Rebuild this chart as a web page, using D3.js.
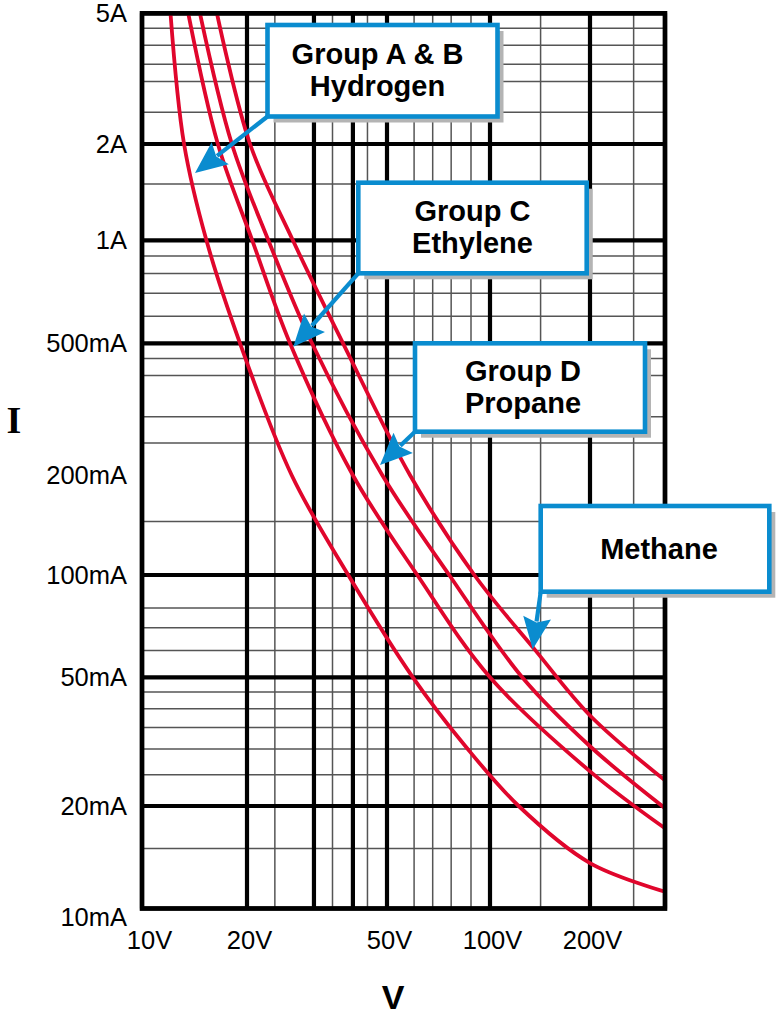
<!DOCTYPE html>
<html><head><meta charset="utf-8">
<script src="https://cdn.jsdelivr.net/npm/d3@7"></script>
<style>body{margin:0;background:#fff}svg{display:block}</style>
</head><body>
<svg id="c" width="776" height="1017"></svg>
<script>
// ---- data ----
const xMajor = [10, 20, 31, 40, 50, 100, 200, 335];
const xMinor = [24, 35, 44, 60, 68, 77, 88, 142, 270];
const yMajor = [10, 20, 50, 100, 500, 1000, 2000, 5000];
const yMinor = [15, 25, 30, 35, 40, 45, 60, 70, 80, 145, 250, 300, 400, 450, 600, 700, 800, 900, 1500, 2500, 3100, 3500, 4000, 4500];
const xTickValues = [10, 20, 50, 100, 200];
const xTickLabels = ["10V", "20V", "50V", "100V", "200V"];
const yTickValues = [10, 20, 50, 100, 200, 500, 1000, 2000, 5000];
const yTickLabels = ["10mA", "20mA", "50mA", "100mA", "200mA", "500mA", "1A", "2A", "5A"];

const hydrogenV = [12.07, 13.2, 15.3, 19.1, 26.8, 38.8, 59.5, 85, 122, 200, 335];
const hydrogenI = [5000, 2000, 1000, 500, 200, 100, 50, 30.5, 20, 13.6, 11.2];
const ethyleneV = [13.57, 16.5, 20.7, 26.5, 40, 61.3, 100, 200, 335];
const ethyleneI = [5000, 2000, 1000, 500, 200, 100, 50, 25.6, 17.2];
const propaneV = [14.66, 18.1, 23.0, 30.6, 48.5, 76, 125, 200, 335];
const propaneI = [5000, 2000, 1000, 500, 200, 100, 50, 30.6, 19.7];
const methaneV = [16.4, 20.4, 27.0, 37.5, 58.4, 90, 136.6, 200, 335];
const methaneI = [5000, 2000, 1000, 500, 200, 100, 60.2, 38.1, 24.0];

const seriesNames = ["Group A & B|Hydrogen", "Group C|Ethylene", "Group D|Propane", "Methane"];

// ---- layout ----
const svg = d3.select("#c");
const x = d3.scaleLog().domain([10, 20, 50, 100, 200, 335]).range([142, 247, 387, 490, 590, 665]);
const y = d3.scaleLog().domain([10, 20, 50, 100, 500, 1000, 2000, 5000]).range([908.5, 806, 677.3, 575, 343.3, 240.3, 144, 13.3]);
const X0 = x(10), X1 = x(335), Y0 = y(10), Y1 = y(5000);

const RED = "#e0062c", BLUE = "#0a8ccf";
const SANS = "Liberation Sans, Arial, sans-serif";

svg.append("defs").append("clipPath").attr("id", "clip")
  .append("rect").attr("x", X0).attr("y", Y1).attr("width", X1 - X0).attr("height", Y0 - Y1);

const grid = svg.append("g");
grid.selectAll(".vmin").data(xMinor).join("line")
  .attr("x1", d => x(d)).attr("x2", d => x(d)).attr("y1", Y1).attr("y2", Y0)
  .attr("stroke", "#555").attr("stroke-width", 1.5);
grid.selectAll(".hmin").data(yMinor).join("line")
  .attr("y1", d => y(d)).attr("y2", d => y(d)).attr("x1", X0).attr("x2", X1)
  .attr("stroke", "#555").attr("stroke-width", 1.5);
grid.selectAll(".vmaj").data(xMajor).join("line")
  .attr("x1", d => x(d)).attr("x2", d => x(d)).attr("y1", Y1).attr("y2", Y0)
  .attr("stroke", "#000").attr("stroke-width", 4.2);
grid.selectAll(".hmaj").data(yMajor).join("line")
  .attr("y1", d => y(d)).attr("y2", d => y(d)).attr("x1", X0 - 2).attr("x2", X1 + 2)
  .attr("stroke", "#000").attr("stroke-width", 4.2);

// ---- curves ----
const seriesData = [
  d3.zip(hydrogenV, hydrogenI),
  d3.zip(ethyleneV, ethyleneI),
  d3.zip(propaneV, propaneI),
  d3.zip(methaneV, methaneI)
];
const line = d3.line().x(d => x(d[0])).y(d => y(d[1])).curve(d3.curveCatmullRom.alpha(0.5));
svg.append("g").attr("clip-path", "url(#clip)")
  .selectAll("path").data(seriesData).join("path")
  .attr("d", line).attr("fill", "none").attr("stroke", RED).attr("stroke-width", 3.8);

// ---- axes ----
const yAxis = svg.append("g").attr("transform", `translate(${X0},0)`)
  .call(d3.axisLeft(y).tickValues(yTickValues).tickFormat((d, i) => yTickLabels[i]).tickSize(0).tickPadding(15));
yAxis.select(".domain").remove();
yAxis.selectAll("text").attr("font-family", SANS).attr("font-size", 25.5).attr("fill", "#000")
  .attr("dy", (d, i) => i === 0 ? "0.68em" : "0.34em");

const xAxis = svg.append("g").attr("transform", `translate(0,${Y0})`)
  .call(d3.axisBottom(x).tickValues(xTickValues).tickFormat((d, i) => xTickLabels[i]).tickSize(0).tickPadding(22));
xAxis.select(".domain").remove();
xAxis.selectAll("text").attr("font-family", SANS).attr("font-size", 25.5).attr("fill", "#000")
  .attr("dx", (d, i) => i === 0 ? 7 : 2);

// border
svg.append("rect").attr("x", X0).attr("y", Y1).attr("width", X1 - X0).attr("height", Y0 - Y1)
  .attr("fill", "none").attr("stroke", "#000").attr("stroke-width", 4.6);

// axis titles
svg.append("text").attr("x", 14).attr("y", 433).attr("text-anchor", "middle")
  .attr("font-family", "Liberation Serif, Times New Roman, serif").attr("font-weight", "bold").attr("font-size", 38).text("I");
svg.append("text").attr("x", 393).attr("y", 1009).attr("text-anchor", "middle")
  .attr("font-family", SANS).attr("font-weight", "bold").attr("font-size", 34).text("V");

// ---- callouts ----
const callouts = [
  { box: [267.5, 25, 230, 91.5], tip: [195, 173], dx: -5 },
  { box: [358.3, 182.7, 228.4, 90.6], tip: [293.3, 346.7], dx: 0 },
  { box: [415, 343.3, 230, 88.4], tip: [380, 465], dx: -7 },
  { box: [540.7, 506, 228.6, 85.7], tip: [532.7, 649.3], dx: 4 }
];
const cg = svg.append("g");
callouts.forEach((c, i) => {
  const [bx, by, bw, bh] = c.box;
  const sx = bx, sy = by + bh;
  const [tx, ty] = c.tip;
  const ang = Math.atan2(ty - sy, tx - sx);
  const L = 32, HW = 14;
  const baseX = tx - L * Math.cos(ang), baseY = ty - L * Math.sin(ang);
  cg.append("line").attr("x1", sx).attr("y1", sy).attr("x2", baseX + 4 * Math.cos(ang)).attr("y2", baseY + 4 * Math.sin(ang))
    .attr("stroke", BLUE).attr("stroke-width", 4.2);
  const px = -Math.sin(ang), py = Math.cos(ang);
  const notch = 5;
  cg.append("path").attr("d", `M${tx},${ty}L${baseX + HW * px},${baseY + HW * py}L${baseX + notch * Math.cos(ang)},${baseY + notch * Math.sin(ang)}L${baseX - HW * px},${baseY - HW * py}Z`)
    .attr("fill", BLUE);
  cg.append("rect").attr("x", bx + 6).attr("y", by + 6).attr("width", bw).attr("height", bh).attr("fill", "#b4b4b4");
  cg.append("rect").attr("x", bx).attr("y", by).attr("width", bw).attr("height", bh)
    .attr("fill", "#fff").attr("stroke", BLUE).attr("stroke-width", 4.6);
  const lines = seriesNames[i].split("|");
  const cx = bx + bw / 2 + c.dx, cy = by + bh / 2;
  const t = cg.append("text").attr("text-anchor", "middle")
    .attr("font-family", SANS).attr("font-weight", "bold").attr("font-size", 29).attr("fill", "#000");
  if (lines.length === 2) {
    t.append("tspan").attr("x", cx).attr("y", cy - 7).text(lines[0]);
    t.append("tspan").attr("x", cx).attr("y", cy + 25).text(lines[1]);
  } else {
    t.append("tspan").attr("x", cx).attr("y", cy + 10.5).text(lines[0]);
  }
});
</script>
</body></html>
